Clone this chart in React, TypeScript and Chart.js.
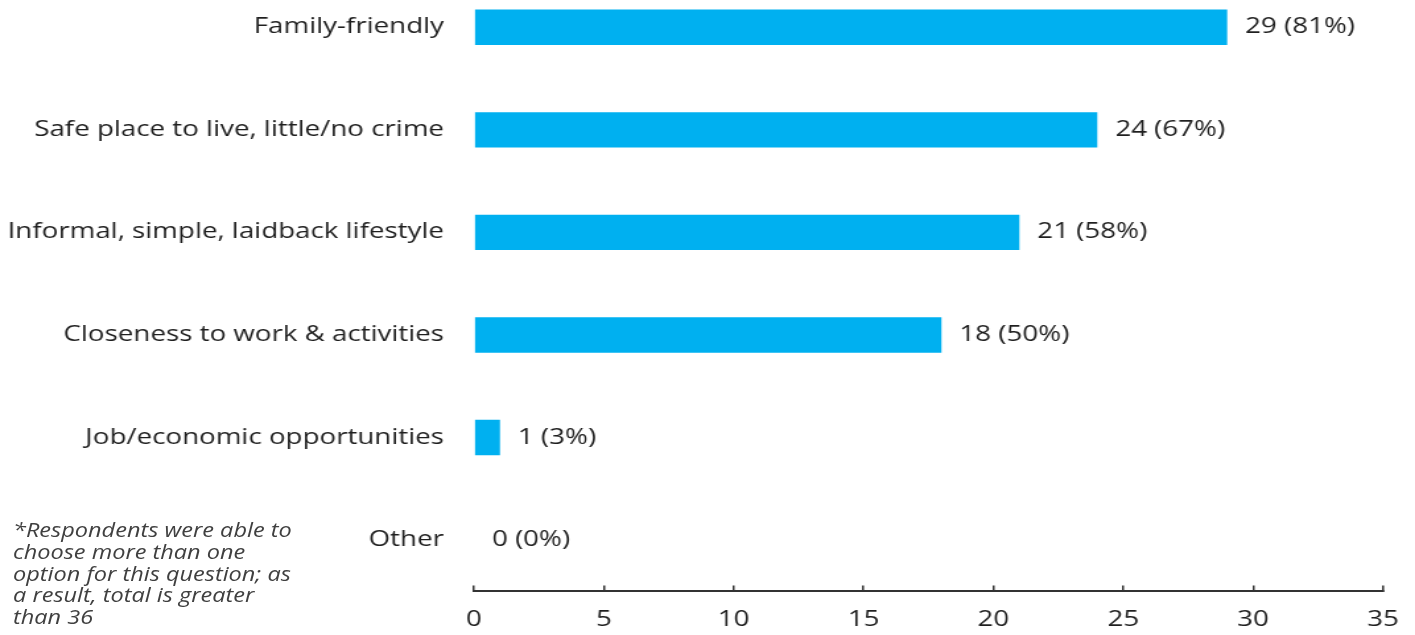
import React, { useEffect, useRef } from "react";
import { Chart, registerables } from "chart.js";

Chart.register(...registerables);

const categories = [
  "Family-friendly",
  "Safe place to live, little/no crime",
  "Informal, simple, laidback lifestyle",
  "Closeness to work & activities",
  "Job/economic opportunities",
  "Other",
];
const counts = [29, 24, 21, 18, 1, 0];
const percents = [81, 67, 58, 50, 3, 0];
const xTicks = [0, 5, 10, 15, 20, 25, 30, 35];
const footnoteLines = [
  "*Respondents were able to",
  "choose more than one",
  "option for this question; as",
  "a result, total is greater",
  "than 36",
];

const FONT = "'Open Sans', 'Noto Sans', sans-serif";
const TEXT = "#1f1f1f";
// the reference is horizontally stretched; draw narrower and stretch with CSS
const SX = 1.32;
const CW = Math.round(1415 / SX);
const CH = 660;
const X_AXIS_H = 44.6;

const valueLabels = {
  id: "valueLabels",
  afterDatasetsDraw(chart: any) {
    const ctx = chart.ctx;
    const meta = chart.getDatasetMeta(0);
    ctx.save();
    ctx.font = `21px ${FONT}`;
    ctx.fillStyle = TEXT;
    ctx.textAlign = "left";
    ctx.textBaseline = "middle";
    meta.data.forEach((bar: any, i: number) => {
      ctx.fillText(`${counts[i]} (${percents[i]}%)`, bar.x + 13.6, bar.y);
    });
    ctx.restore();
  },
};

const zeroPadding = (scale: any) => {
  scale.paddingTop = 0;
  scale.paddingBottom = 0;
  scale.paddingLeft = 0;
  scale.paddingRight = 0;
  if (scale._margins) {
    scale._margins.top = 0;
    scale._margins.bottom = 0;
    scale._margins.left = 0;
    scale._margins.right = 0;
  }
};

export default function App() {
  const ref = useRef<HTMLCanvasElement>(null);
  useEffect(() => {
    if (!ref.current) return;
    const chart = new Chart(ref.current, {
      type: "bar",
      data: {
        labels: categories,
        datasets: [
          {
            data: counts,
            backgroundColor: "#00B0F0",
            categoryPercentage: 1,
            barPercentage: 0.345,
          },
        ],
      },
      options: {
        indexAxis: "y",
        animation: false,
        responsive: false,
        maintainAspectRatio: false,
        layout: { autoPadding: false, padding: { top: 0, right: CW - 1383 / SX, bottom: 0, left: 0 } },
        plugins: { legend: { display: false }, tooltip: { enabled: false } },
        scales: {
          x: {
            min: 0,
            max: 35,
            afterBuildTicks: (scale: any) => {
              scale.ticks = xTicks.map((v) => ({ value: v }));
            },
            afterFit: (scale: any) => {
              scale.height = X_AXIS_H;
              zeroPadding(scale);
            },
            ticks: {
              font: { family: FONT, size: 21 },
              color: TEXT,
              padding: 22,
              maxRotation: 0,
            },
            grid: {
              drawOnChartArea: false,
              drawTicks: true,
              tickLength: -6,
              color: "#333333",
              lineWidth: 1.5,
            },
            border: { display: true, color: "#333333", width: 2 },
          },
          y: {
            afterFit: (scale: any) => {
              scale.width = 474 / SX;
              zeroPadding(scale);
            },
            ticks: {
              font: { family: FONT, size: 21 },
              color: TEXT,
              padding: 30 / SX,
            },
            grid: { display: false, drawTicks: false },
            border: { display: false },
          },
        },
      },
      plugins: [valueLabels],
    });
    return () => chart.destroy();
  }, []);

  return (
    <div style={{ position: "absolute", left: 0, top: 0, width: 1415, height: 635, overflow: "hidden" }}>
      <canvas
        ref={ref}
        width={CW}
        height={CH}
        style={{
          position: "absolute",
          left: 0,
          top: -24,
          width: CW,
          height: CH,
          transform: `scaleX(${SX})`,
          transformOrigin: "0 0",
        }}
      />
      <div
        style={{
          position: "absolute",
          left: 13,
          top: 519,
          fontFamily: FONT,
          fontStyle: "italic",
          fontSize: 20,
          lineHeight: "21.8px",
          color: "#404040",
          whiteSpace: "nowrap",
          transform: "scaleX(1.176)",
          transformOrigin: "0 0",
        }}
      >
        {footnoteLines.map((l, i) => (
          <div key={i}>{l}</div>
        ))}
      </div>
    </div>
  );
}
